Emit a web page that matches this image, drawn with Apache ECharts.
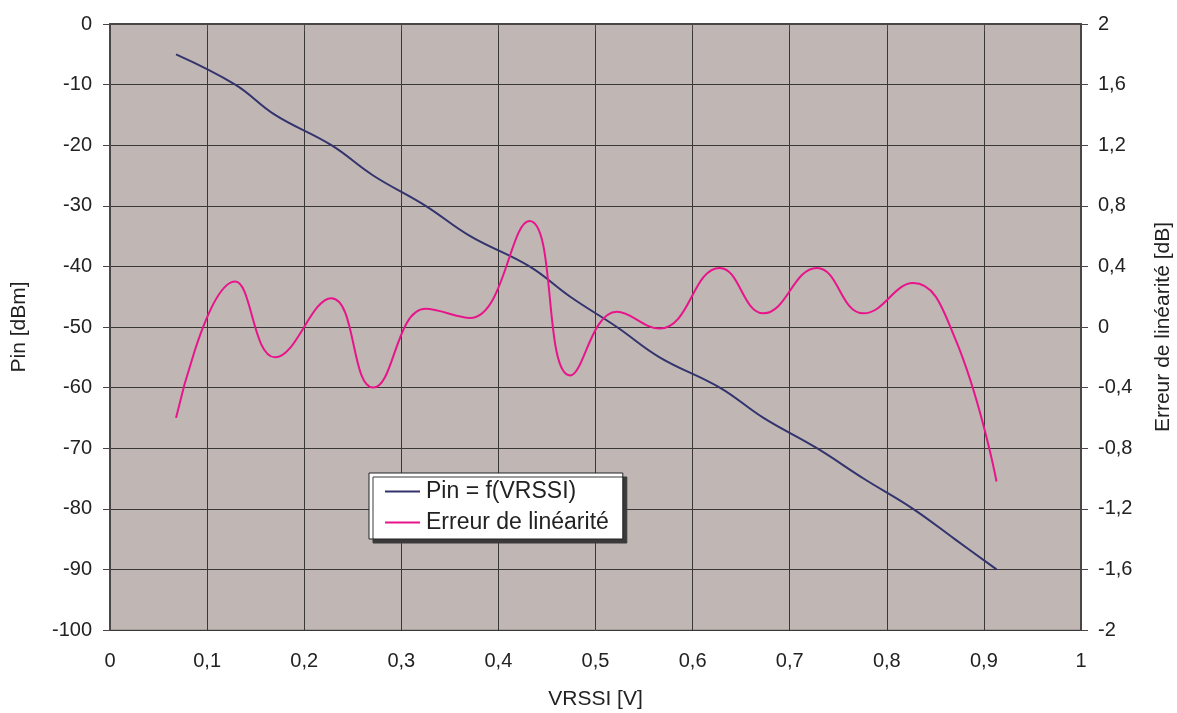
<!DOCTYPE html>
<html>
<head>
<meta charset="utf-8">
<script src="https://cdn.jsdelivr.net/npm/echarts@6/dist/echarts.min.js"></script>
<style>
  html, body { margin: 0; padding: 0; background: #fff; }
  #chart { width: 1177px; height: 713px; }
</style>
</head>
<body>
<div id="chart"></div>
<script>
// RSSI detector: input power vs. RSSI voltage, and linearity error
const vrssi = [0.068, 0.129, 0.170, 0.228, 0.271, 0.325, 0.371, 0.432, 0.474, 0.522, 0.566, 0.628, 0.673, 0.728, 0.776, 0.827, 0.870, 0.913];
const pinDbm = [-5, -10, -15, -20, -25, -30, -35, -40, -45, -50, -55, -60, -65, -70, -75, -80, -85, -90];
const errDb = [-0.60, 0.30, -0.20, 0.19, -0.40, 0.12, 0.06, 0.70, -0.32, 0.10, -0.01, 0.39, 0.09, 0.39, 0.09, 0.29, -0.07, -1.02];

const seriesNames = ['Pin = f(VRSSI)', 'Erreur de linéarité'];
const axisNames = { x: 'VRSSI [V]', left: 'Pin [dBm]', right: 'Erreur de linéarité [dB]' };

const FONT = '"Liberation Sans", Arial, sans-serif';
const TXT = '#222';
const GRID = '#3a3737';

const comma = v => String(Math.round(v * 10) / 10).replace('.', ',');

const chart = echarts.init(document.getElementById('chart'), null, { renderer: 'canvas' });

chart.setOption({
  animation: false,
  textStyle: { fontFamily: FONT },
  grid: {
    left: 110, top: 24, right: 96, bottom: 83,
    containLabel: false, outerBoundsMode: 'none',
    show: true, backgroundColor: '#c0b7b5', borderColor: '#8a8585', borderWidth: 1
  },
  legend: {
    orient: 'vertical',
    left: 369, top: 473,
    padding: [7, 14, 5, 16],
    itemGap: 8,
    itemWidth: 35, itemHeight: 2,
    icon: 'rect',
    backgroundColor: '#fff',
    borderColor: '#222', borderWidth: 1,
    shadowColor: '#3a3a3a', shadowBlur: 0, shadowOffsetX: 4, shadowOffsetY: 4,
    textStyle: { fontFamily: FONT, fontSize: 23, color: TXT, padding: [0, 0, 0, 1] },
    data: seriesNames
  },
  xAxis: {
    type: 'value', min: 0, max: 1, interval: 0.1,
    name: axisNames.x, nameLocation: 'middle', nameGap: 59,
    nameTextStyle: { fontFamily: FONT, fontSize: 21, color: TXT },
    axisLine: { lineStyle: { color: '#4a4646', width: 2 } },
    axisTick: { show: true, length: 7, lineStyle: { color: '#4a4646' } },
    axisLabel: { fontFamily: FONT, fontSize: 20, color: TXT, margin: 21, formatter: comma },
    splitLine: { show: true, lineStyle: { color: GRID, width: 1 } }
  },
  yAxis: [
    {
      type: 'value', min: -100, max: 0, interval: 10,
      name: axisNames.left, nameLocation: 'middle', nameGap: 80,
      nameTextStyle: { fontFamily: FONT, fontSize: 21, color: TXT },
      axisLine: { show: true, lineStyle: { color: '#4a4646', width: 2 } },
      axisTick: { show: true, length: 7, lineStyle: { color: '#4a4646' } },
      axisLabel: { fontFamily: FONT, fontSize: 20, color: TXT, margin: 18 },
      splitLine: { show: true, lineStyle: { color: GRID, width: 1 } }
    },
    {
      type: 'value', min: -2, max: 2, interval: 0.4, position: 'right',
      name: axisNames.right, nameLocation: 'middle', nameGap: 72, nameRotate: 90,
      nameTextStyle: { fontFamily: FONT, fontSize: 21, color: TXT },
      axisLine: { show: true, lineStyle: { color: '#4a4646', width: 2 } },
      axisTick: { show: true, length: 7, lineStyle: { color: '#4a4646' } },
      axisLabel: { fontFamily: FONT, fontSize: 20, color: TXT, margin: 17, formatter: comma },
      splitLine: { show: false }
    }
  ],
  series: [
    {
      name: seriesNames[0], type: 'line', yAxisIndex: 0,
      data: vrssi.map((v, i) => [v, pinDbm[i]]),
      smooth: 0.4, showSymbol: false, symbol: 'none',
      itemStyle: { color: '#33336d' },
      lineStyle: { color: '#33336d', width: 2 }
    },
    {
      name: seriesNames[1], type: 'line', yAxisIndex: 1,
      data: vrssi.map((v, i) => [v, errDb[i]]),
      smooth: 0.45, showSymbol: false, symbol: 'none',
      itemStyle: { color: '#e8148a' },
      lineStyle: { color: '#e8148a', width: 2 }
    }
  ]
});
</script>
</body>
</html>
